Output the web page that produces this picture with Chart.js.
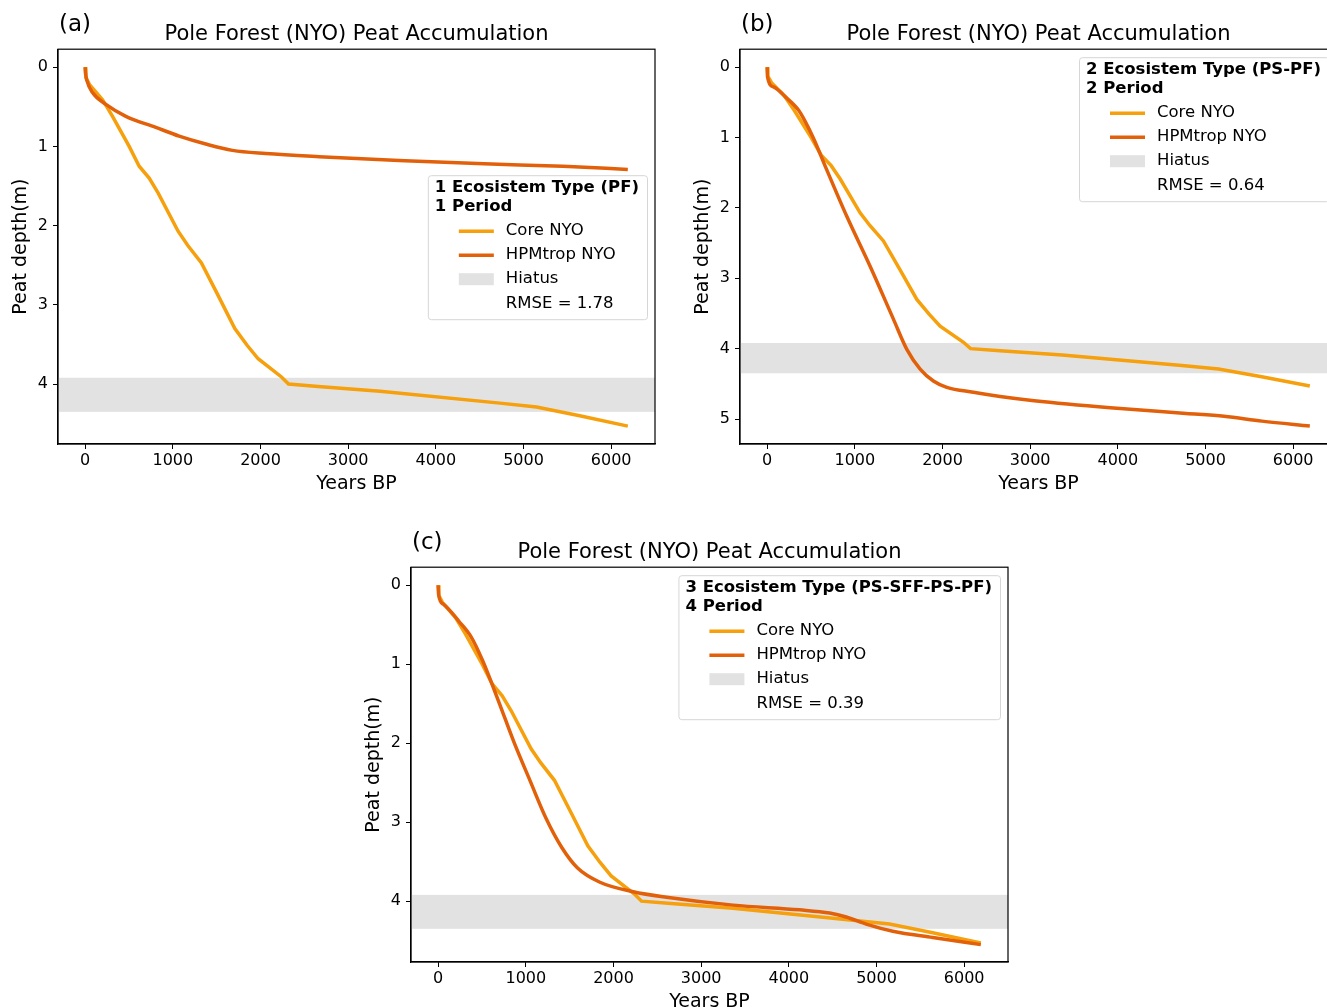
<!DOCTYPE html>
<html>
<head>
<meta charset="utf-8">
<script src="https://cdn.jsdelivr.net/npm/chart.js@4.4.1/dist/chart.umd.min.js"></script>
<style>
  html, body { margin: 0; padding: 0; background: #fff; overflow: hidden; width: 1327px; height: 1008px; }
  canvas { position: absolute; }
</style>
</head>
<body>
<canvas id="chartA" width="670" height="500" style="left:0px;top:0px"></canvas>
<canvas id="chartB" width="670" height="500" style="left:682px;top:0px"></canvas>
<canvas id="chartC" width="670" height="500" style="left:353px;top:518px"></canvas>
<script>
// measured core (same in every panel)
var coreYears = [0, 8, 50, 198, 312, 502, 616, 730, 833, 1060, 1171, 1326, 1516, 1707, 1847, 1973, 2239, 2320, 2657, 3364, 4730, 5148, 5641, 6190];
var coreDepth = [0, 0.13, 0.22, 0.41, 0.62, 1.00, 1.25, 1.40, 1.59, 2.07, 2.25, 2.47, 2.88, 3.30, 3.51, 3.68, 3.91, 4.00, 4.03, 4.09, 4.24, 4.29, 4.40, 4.53];

// HPMtrop runs
var hpmAYears = [0, 5, 20, 84, 236, 464, 806, 1072, 1376, 1680, 2060, 2668, 3649, 4550, 5450, 6190];
var hpmADepth = [0, 0.08, 0.17, 0.32, 0.47, 0.62, 0.76, 0.87, 0.97, 1.05, 1.09, 1.13, 1.18, 1.22, 1.25, 1.29];

var hpmBYears = [0, 4, 72, 224, 357, 433, 528, 680, 908, 1174, 1440, 1593, 1745, 1896, 2049, 2352, 2657, 3046, 3912, 4779, 5212, 5645, 6190];
var hpmBDepth = [0, 0.14, 0.28, 0.44, 0.61, 0.77, 1.01, 1.46, 2.12, 2.83, 3.58, 4.01, 4.29, 4.46, 4.55, 4.62, 4.68, 4.74, 4.84, 4.92, 4.96, 5.03, 5.10];

var hpmCYears = [0, 5, 59, 239, 374, 509, 689, 869, 1050, 1230, 1410, 1590, 1845, 2225, 2605, 3364, 4123, 4465, 4655, 4882, 5186, 5641, 6190];
var hpmCDepth = [0, 0.12, 0.24, 0.46, 0.65, 0.96, 1.47, 2.00, 2.48, 2.95, 3.32, 3.58, 3.76, 3.88, 3.95, 4.05, 4.11, 4.15, 4.20, 4.29, 4.38, 4.46, 4.55];

var hiatus = [3.92, 4.35];
var xTicks = [0, 1000, 2000, 3000, 4000, 5000, 6000];
var yTicksA = [0, 1, 2, 3, 4];
var yTicksB = [0, 1, 2, 3, 4, 5];
var yTicksC = [0, 1, 2, 3, 4];

var rmse = ['RMSE = 1.78', 'RMSE = 0.64', 'RMSE = 0.39'];
var legendTitles = [
  ['1 Ecosistem Type (PF)', '1 Period'],
  ['2 Ecosistem Type (PS-PF)', '2 Period'],
  ['3 Ecosistem Type (PS-SFF-PS-PF)', '4 Period']
];

var coreColor = '#f5a00c';
var hpmColor = '#e2600a';
var hiatusColor = '#e2e2e2';
var fontFam = '"DejaVu Sans", sans-serif';

function pts(xs, ys) {
  return xs.map(function (x, i) { return { x: x, y: ys[i] }; });
}

// hiatus band, frame, panel letter and the inset legend
var panelDeco = {
  id: 'panelDeco',
  beforeDatasetsDraw: function (chart) {
    var a = chart.chartArea, y = chart.scales.y, ctx = chart.ctx;
    var y0 = y.getPixelForValue(hiatus[0]), y1 = y.getPixelForValue(hiatus[1]);
    ctx.save();
    ctx.fillStyle = hiatusColor;
    ctx.fillRect(a.left, y0, a.right - a.left, y1 - y0);
    ctx.restore();
  },
  afterDraw: function (chart, args, o) {
    var a = chart.chartArea, ctx = chart.ctx;
    ctx.save();
    ctx.strokeStyle = '#000';
    ctx.lineWidth = 1.2;
    ctx.strokeRect(a.left, a.top, a.right - a.left, a.bottom - a.top);

    ctx.fillStyle = '#000';
    ctx.font = '23px ' + fontFam;
    ctx.textBaseline = 'middle';
    ctx.textAlign = 'left';
    ctx.fillText(o.letter, a.left + 1, a.top - 24);

    // legend
    var fs = 16.5;
    ctx.font = 'bold ' + fs + 'px ' + fontFam;
    var w = 0;
    o.title.forEach(function (t) { w = Math.max(w, ctx.measureText(t).width); });
    ctx.font = fs + 'px ' + fontFam;
    ['Core NYO', 'HPMtrop NYO', 'Hiatus', o.rmse].forEach(function (t) {
      w = Math.max(w, 70 + ctx.measureText(t).width);
    });
    var bw = w + 15, bh = 144;
    var bx = a.right - o.right - bw, by = a.top + o.top;
    ctx.fillStyle = 'rgba(255,255,255,0.85)';
    ctx.strokeStyle = '#d6d6d6';
    ctx.lineWidth = 1;
    ctx.beginPath();
    ctx.roundRect(bx + 0.5, by + 0.5, bw, bh, 3);
    ctx.fill();
    ctx.stroke();

    ctx.fillStyle = '#000';
    ctx.font = 'bold ' + fs + 'px ' + fontFam;
    ctx.fillText(o.title[0], bx + 7, by + 13);
    ctx.fillText(o.title[1], bx + 7, by + 32);

    var ds = chart.data.datasets;
    var rows = [by + 56, by + 80, by + 104, by + 129];
    ctx.lineWidth = 3.5;
    ctx.strokeStyle = ds[0].borderColor;
    ctx.beginPath(); ctx.moveTo(bx + 31, rows[0]); ctx.lineTo(bx + 66, rows[0]); ctx.stroke();
    ctx.strokeStyle = ds[1].borderColor;
    ctx.beginPath(); ctx.moveTo(bx + 31, rows[1]); ctx.lineTo(bx + 66, rows[1]); ctx.stroke();
    ctx.fillStyle = hiatusColor;
    ctx.fillRect(bx + 31, rows[2] - 6, 35, 12);

    ctx.fillStyle = '#000';
    ctx.font = fs + 'px ' + fontFam;
    ctx.fillText(ds[0].label, bx + 78, rows[0]);
    ctx.fillText(ds[1].label, bx + 78, rows[1]);
    ctx.fillText('Hiatus', bx + 78, rows[2]);
    ctx.fillText(o.rmse, bx + 78, rows[3]);
    ctx.restore();
  }
};

function makeChart(id, hpmYears, hpmDepth, yMin, yMax, yTicks, deco) {
  var ctx = document.getElementById(id).getContext('2d');
  return new Chart(ctx, {
    type: 'line',
    data: {
      datasets: [{
        label: 'Core NYO',
        data: pts(coreYears, coreDepth),
        borderColor: coreColor,
        borderWidth: 3.5,
        pointRadius: 0,
        tension: 0,
        order: 1
      }, {
        label: 'HPMtrop NYO',
        data: pts(hpmYears, hpmDepth),
        borderColor: hpmColor,
        borderWidth: 3.5,
        pointRadius: 0,
        cubicInterpolationMode: 'monotone',
        order: 0
      }]
    },
    options: {
      responsive: false,
      animation: false,
      events: [],
      layout: { padding: { top: 0, left: 0, right: 15, bottom: 0 } },
      scales: {
        x: {
          type: 'linear',
          min: -310, max: 6500,
          afterFit: function (s) { s.height = 56; },
          afterBuildTicks: function (s) { s.ticks = xTicks.map(function (v) { return { value: v }; }); },
          ticks: {
            color: '#000', font: { family: fontFam, size: 16 }, padding: 2, maxRotation: 0,
            callback: function (v) { return String(v); }
          },
          grid: { drawOnChartArea: false, drawTicks: true, tickLength: 5, color: '#000' },
          border: { display: true, color: '#000', width: 1.2 },
          title: { display: true, text: 'Years BP', color: '#000', font: { family: fontFam, size: 19 }, padding: { top: 0, bottom: 5 } }
        },
        y: {
          type: 'linear',
          reverse: true,
          min: yMin, max: yMax,
          afterFit: function (s) { s.width = 58; },
          afterBuildTicks: function (s) { s.ticks = yTicks.map(function (v) { return { value: v }; }); },
          ticks: { color: '#000', font: { family: fontFam, size: 16 }, padding: 5 },
          grid: { drawOnChartArea: false, drawTicks: true, tickLength: 5, color: '#000' },
          border: { display: true, color: '#000', width: 1.2 },
          title: { display: true, text: 'Peat depth(m)', color: '#000', font: { family: fontFam, size: 19 }, padding: { top: 10, bottom: 0 } }
        }
      },
      plugins: {
        legend: { display: false },
        tooltip: { enabled: false },
        title: {
          display: true,
          fullSize: false,
          text: 'Pole Forest (NYO) Peat Accumulation',
          color: '#000',
          font: { family: fontFam, size: 21, weight: 'normal' },
          padding: { top: 22, bottom: 2 }
        },
        panelDeco: deco
      }
    },
    plugins: [panelDeco]
  });
}

makeChart('chartA', hpmAYears, hpmADepth, -0.227, 4.756, yTicksA,
  { letter: '(a)', title: legendTitles[0], rmse: rmse[0], right: 8, top: 126 });
makeChart('chartB', hpmBYears, hpmBDepth, -0.255, 5.355, yTicksB,
  { letter: '(b)', title: legendTitles[1], rmse: rmse[1], right: 8, top: 8 });
makeChart('chartC', hpmCYears, hpmCDepth, -0.228, 4.77, yTicksC,
  { letter: '(c)', title: legendTitles[2], rmse: rmse[2], right: 8, top: 8 });
</script>
</body>
</html>
